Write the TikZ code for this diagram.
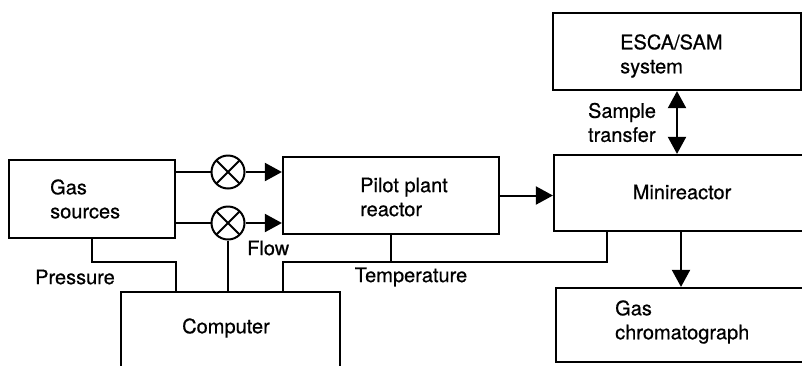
\documentclass[tikz,border=0pt]{standalone}
\usepackage{fontspec}
\setmainfont{TeX Gyre Heros}[FakeBold=0.6]
\usetikzlibrary{arrows.meta, positioning}

\begin{document}
\begin{tikzpicture}[x=1pt, y=-1pt, font=\fontsize{20}{24}\selectfont,
  unit/.style={draw, line width=2.2pt, inner sep=0pt},
  lbl/.style={inner sep=0pt, align=left},
  wire/.style={line width=2pt},
  flow/.style={wire, -{Triangle[length=17pt, width=18pt]}},
  valve/.style={draw, circle, line width=2pt, minimum size=33pt, inner sep=0pt,
    path picture={\draw[line width=2pt]
      (path picture bounding box.north west) -- (path picture bounding box.south east)
      (path picture bounding box.north east) -- (path picture bounding box.south west);}}]
  \useasboundingbox (0,0) rectangle (802,365);
  \clip (0,0) rectangle (802,365);

  % units
  \node[unit, minimum width=166pt, minimum height=78pt] (gas) at (92,199) {};
  \node[unit, minimum width=216pt, minimum height=77pt] (pilot) at (391,195.5) {};
  \node[unit, minimum width=219pt, minimum height=108pt] (comp) at (230.5,346) {};
  \node[unit, minimum width=248pt, minimum height=77pt] (esca) at (677,51.5) {};
  \node[unit, minimum width=254pt, minimum height=76pt] (mini) at (681,193) {};
  \node[unit, minimum width=250pt, minimum height=74pt] (gc) at (681,325) {};

  % unit texts
  \node[lbl, anchor=west] (gastxt) at (50,199) {Gas\\sources};
  \node[lbl, anchor=west] (pilottxt) at (360,197) {Pilot plant\\reactor};
  \node[lbl] (comptxt) at (226,328) {Computer};
  \node[lbl, anchor=west] (escatxt) at (620,56) {ESCA/SAM\\system};
  \node[lbl] (minitxt) at (682,192) {Minireactor};
  \node[lbl, anchor=west] (gctxt) at (615,322) {Gas\\chromatograph};

  % flow valves
  \node[valve] (v1) at (228,172) {};
  \node[valve] (v2) at (228,223) {};
  \draw[wire] (v1 -| gas.east) -- (v1);
  \draw[wire] (v2 -| gas.east) -- (v2);
  \draw[flow] (v1) -- (v1 -| pilot.west);
  \draw[flow] (v2) -- (v2 -| pilot.west);

  % signal lines to the computer
  \coordinate (bus) at (0,262);
  \coordinate (pin) at ([xshift=-55pt]comp.north);
  \coordinate (tin) at ([xshift=52.5pt]comp.north);
  \coordinate (tout) at ([xshift=54pt]mini.south west);
  \draw[wire] (gas.south) |- (pin |- bus) -- (pin);
  \draw[wire] (v2) -- (v2 |- comp.north);
  \draw[wire] (tin) |- (tout |- bus) -- (tout);
  \draw[wire] (pilot.south) -- (pilot.south |- bus);

  % product lines
  \draw[flow] (pilot.east) -- (pilot.east -| mini.west);
  \draw[wire, {Triangle[length=17pt, width=18pt]}-{Triangle[length=17pt, width=18pt]}]
    (esca.south) -- (esca.south |- mini.north)
    node[midway, left=20pt, lbl] (samplbl) {Sample\\transfer};
  \draw[flow] (mini.south) -- (gc.north);

  % signal labels
  \node[lbl] (preslbl) at (75,277) {Pressure};
  \node[lbl] (templbl) at (411,277) {Temperature};
  \node[lbl, anchor=west] (flowlbl) at (247,248) {Flow};
\end{tikzpicture}
\end{document}
